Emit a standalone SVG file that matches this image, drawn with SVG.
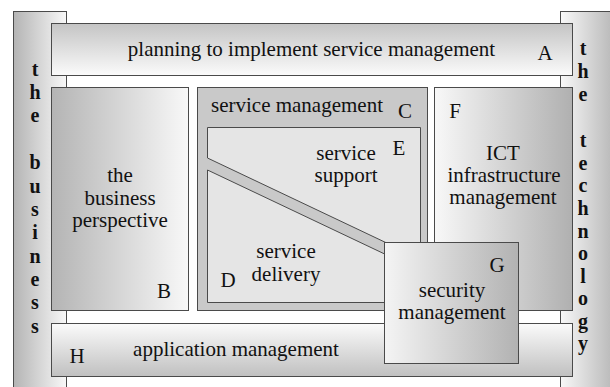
<svg xmlns="http://www.w3.org/2000/svg" width="610" height="387" viewBox="0 0 610 387">
<defs>
<linearGradient id="gL2R" x1="0" y1="0" x2="1" y2="0"><stop offset="0" stop-color="#b4b4b4"/><stop offset="1" stop-color="#f8f8f8"/></linearGradient>
<linearGradient id="gR2L" x1="0" y1="0" x2="1" y2="0"><stop offset="0" stop-color="#f8f8f8"/><stop offset="1" stop-color="#b0b0b0"/></linearGradient>
<linearGradient id="gTop" x1="0" y1="0" x2="0" y2="1"><stop offset="0" stop-color="#c4c4c4"/><stop offset="1" stop-color="#fbfbfb"/></linearGradient>
<linearGradient id="gBot" x1="0" y1="0" x2="0" y2="1"><stop offset="0" stop-color="#fbfbfb"/><stop offset="1" stop-color="#c0c0c0"/></linearGradient>
<linearGradient id="gG" x1="0" y1="0" x2="1" y2="0"><stop offset="0" stop-color="#f4f4f4"/><stop offset="1" stop-color="#b2b2b2"/></linearGradient>
</defs>
<style>
.box{stroke:#4a4a4a;stroke-width:1}
.t{font-family:'Liberation Serif',serif;font-size:21px;fill:#111;text-anchor:middle}
.v{font-family:'Liberation Serif',serif;font-size:20px;font-weight:bold;fill:#111;text-anchor:middle}
</style>
<rect width="610" height="387" fill="#ffffff"/>
<g id="business-bar">
<rect class="box" x="13.5" y="11.5" width="53" height="390" fill="url(#gL2R)"/>
<text class="v"><tspan x="35" y="76">t</tspan><tspan x="35" y="99">h</tspan><tspan x="35" y="122">e</tspan><tspan x="35" y="169">b</tspan><tspan x="35" y="193">u</tspan><tspan x="35" y="216">s</tspan><tspan x="35" y="239">i</tspan><tspan x="35" y="263">n</tspan><tspan x="35" y="286">e</tspan><tspan x="35" y="309">s</tspan><tspan x="35" y="333">s</tspan></text>
</g>
<g id="technology-bar">
<rect class="box" x="560.5" y="11.5" width="60" height="390" fill="url(#gR2L)"/>
<text class="v"><tspan x="583" y="55">t</tspan><tspan x="583" y="78">h</tspan><tspan x="583" y="101">e</tspan><tspan x="583" y="147">t</tspan><tspan x="583" y="170">e</tspan><tspan x="583" y="192">c</tspan><tspan x="583" y="215">h</tspan><tspan x="583" y="238">n</tspan><tspan x="583" y="260">o</tspan><tspan x="583" y="283">l</tspan><tspan x="583" y="305">o</tspan><tspan x="583" y="328">g</tspan><tspan x="583" y="350">y</tspan></text>
</g>
<g id="A">
<rect class="box" x="51.5" y="23.5" width="521" height="52" fill="url(#gTop)"/>
<text class="t" x="311.5" y="56">planning to implement service management</text>
<text class="t" x="545" y="60">A</text>
</g>
<g id="B">
<rect class="box" x="51.5" y="87.5" width="137" height="223" fill="url(#gL2R)"/>
<text class="t" x="120" y="182">the</text>
<text class="t" x="120" y="205">business</text>
<text class="t" x="120" y="227">perspective</text>
<text class="t" x="164" y="298">B</text>
</g>
<g id="C">
<rect class="box" x="197.5" y="87.5" width="230" height="223" fill="#c9c9c9"/>
<text class="t" x="297" y="112">service management</text>
<text class="t" x="405" y="118">C</text>
</g>
<g id="E">
<polygon class="box" points="207.5,127.5 420.5,127.5 420.5,259 207.5,158" fill="#e5e5e5"/>
<text class="t" x="346" y="160">service</text>
<text class="t" x="346" y="182">support</text>
<text class="t" x="399" y="155">E</text>
</g>
<g id="D">
<polygon class="box" points="207.5,170 420.5,271 420.5,302.5 207.5,302.5" fill="#e5e5e5"/>
<text class="t" x="286" y="258">service</text>
<text class="t" x="286" y="281">delivery</text>
<text class="t" x="228" y="287">D</text>
</g>
<g id="F">
<rect class="box" x="434.5" y="87.5" width="138" height="223" fill="url(#gR2L)"/>
<text class="t" x="455" y="118">F</text>
<text class="t" x="503" y="160">ICT</text>
<text class="t" x="504" y="182">infrastructure</text>
<text class="t" x="503" y="204">management</text>
</g>
<g id="H">
<rect class="box" x="51.5" y="323.5" width="521" height="53" fill="url(#gBot)"/>
<text class="t" x="236" y="356">application management</text>
<text class="t" x="77" y="363">H</text>
</g>
<g id="G">
<rect class="box" x="384.5" y="242.5" width="134" height="121" fill="url(#gG)"/>
<text class="t" x="497" y="272">G</text>
<text class="t" x="452" y="297">security</text>
<text class="t" x="452" y="319">management</text>
</g>
<g id="connectors"></g>
</svg>
